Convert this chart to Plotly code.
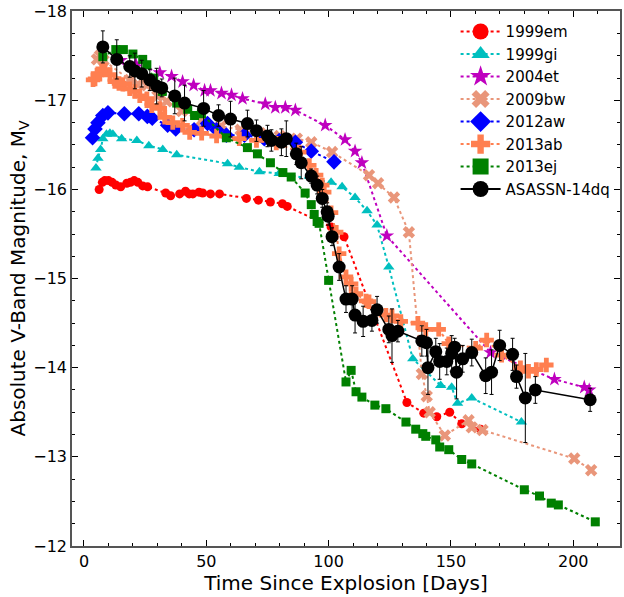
import plotly.graph_objects as go

# ---------------- data ----------------
em_day = [6.2, 7.5, 8.5, 10.0, 11.5, 13.0, 15.0, 17.5, 19.0, 20.5, 22.0, 24.0, 26.0, 33.4, 35.4, 39.1,
          41.5, 43.0, 44.5, 47.0, 48.5, 51.7, 55.4, 66.4, 71.3, 76.2, 81.1, 83.1, 101.0, 106.3,
          132.0, 138.9, 144.2, 149.5, 154.4, 162.1]
em_mag = [-16.0, -16.08, -16.1, -16.1, -16.08, -16.05, -16.03, -16.07, -16.08, -16.1, -16.08, -16.04,
          -16.03, -15.96, -15.93, -15.95, -15.98, -15.95, -15.95, -15.97, -15.96, -15.95, -15.95,
          -15.9, -15.88, -15.86, -15.84, -15.81, -15.58, -15.47, -13.61, -13.49, -13.45, -13.50,
          -13.37, -13.31]

gi_day = [4.9, 5.7, 6.8, 7.7, 9.2, 10.6, 11.8, 15.4, 21.6, 26.5, 32.2, 37.9, 58.7, 63.5, 71.7, 79.8,
          101.0, 105.5, 110.8, 115.7, 119.8, 124.6, 134.4, 145.8, 150.3, 152.7, 158.5, 178.8]
gi_mag = [-16.24, -16.35, -16.45, -16.57, -16.62, -16.63, -16.62, -16.57, -16.55, -16.49, -16.45,
          -16.39, -16.29, -16.25, -16.20, -16.18, -16.08, -16.03, -15.91, -15.76, -15.60, -15.13,
          -14.10, -13.80, -13.78, -13.60, -13.66, -13.39]

et_day = [15.0, 21.2, 31.0, 35.8, 40.3, 44.8, 49.3, 51.7, 56.2, 60.3, 64.8, 74.1, 78.2, 82.3, 86.4,
          98.6, 106.7, 110.8, 113.6, 123.8, 166.2, 192.3, 204.5, 206.5]
et_mag = [-17.45, -17.41, -17.31, -17.27, -17.21, -17.17, -17.11, -17.11, -17.08, -17.06, -17.02,
          -16.96, -16.92, -16.92, -16.89, -16.72, -16.56, -16.43, -16.30, -15.48, -14.17, -13.87,
          -13.78, -13.75]

bw_day = [5.3, 6.5, 8.0, 18.7, 22.0, 25.7, 30.0, 33.8, 40.0, 48.0, 56.0, 64.0, 72.0, 80.0, 87.0,
          92.9, 101.4, 116.5, 120.2, 126.7, 132.8, 138.1, 140.1, 141.3, 147.5, 157.2, 158.5, 162.9,
          200.4, 207.3]
bw_mag = [-17.46, -17.5, -17.45, -17.23, -17.18, -17.17, -17.05, -16.99, -16.88, -16.77, -16.71,
          -16.67, -16.63, -16.6, -16.57, -16.53, -16.42, -16.16, -16.07, -15.91, -15.52, -13.93,
          -13.68, -13.50, -13.24, -13.41, -13.33, -13.30, -12.98, -12.85]

aw_day = [3.5, 4.5, 5.7, 7.7, 9.8, 16.5, 22.4, 25.9, 27.9, 34.2, 37.5, 45.0, 50.5, 54.2, 58.2,
          65.6, 73.7, 79.8, 86.4, 92.9, 102.2]
aw_mag = [-16.58, -16.68, -16.75, -16.83, -16.86, -16.85, -16.85, -16.82, -16.80, -16.72, -16.68,
          -16.67, -16.74, -16.67, -16.61, -16.61, -16.57, -16.55, -16.53, -16.43, -16.31]

ab_day = [3.7, 4.5, 5.7, 7.3, 8.6, 10.6, 12.6, 14.3, 15.9, 18.7, 20.8, 22.8, 25.7, 27.7, 31.0, 33.0,
          36.3, 40.3, 43.2, 48.1, 54.2, 63.5, 70.5, 78.6, 88.0, 92.1, 94.9, 97.4, 98.2, 101.0,
          103.1, 104.3, 107.1, 109.2, 111.2, 115.3, 116.5, 123.4, 125.9, 129.5, 136.5, 139.7,
          145.0, 149.1, 160.1, 164.6, 170.7, 178.4, 181.7, 184.9, 189.0]
ab_mag = [-17.23, -17.24, -17.30, -17.34, -17.34, -17.29, -17.21, -17.19, -17.18, -17.13, -17.10,
          -17.05, -17.02, -16.94, -16.91, -16.81, -16.75, -16.72, -16.64, -16.63, -16.60, -16.57,
          -16.55, -16.52, -16.42, -16.27, -16.16, -16.05, -15.97, -15.74, -15.52, -15.28, -15.02,
          -14.94, -14.83, -14.75, -14.74, -14.59, -14.58, -14.52, -14.50, -14.43, -14.43, -14.27,
          -14.22, -14.31, -14.14, -14.00, -13.96, -13.98, -14.03]

ej_day = [7.7, 13.0, 16.1, 20.0, 24.0, 25.7, 28.5, 32.0, 37.9, 42.4, 45.2, 48.0, 58.2, 66.8, 70.9,
          76.2, 81.3, 84.7, 90.4, 92.9, 94.1, 95.3, 96.1, 100.0, 107.1, 109.2, 111.2, 113.6, 118.9,
          123.4, 131.6, 135.6, 138.5, 139.7, 143.8, 145.4, 149.1, 154.4, 158.5, 180.0, 186.2,
          191.0, 193.9, 209.0]
ej_mag = [-17.49, -17.57, -17.57, -17.52, -17.46, -17.40, -17.25, -17.1, -16.97, -16.90, -16.83,
          -16.85, -16.58, -16.47, -16.40, -16.30, -16.19, -16.14, -15.96, -15.83, -15.72, -15.64,
          -15.62, -14.98, -13.84, -13.97, -13.73, -13.67, -13.58, -13.54, -13.39, -13.31, -13.26,
          -13.23, -13.19, -13.11, -13.08, -12.97, -12.92, -12.63, -12.56, -12.48, -12.46, -12.27]

dq_day = [7.7, 13.4, 18.7, 20.8, 23.6, 26.9, 29.7, 31.8, 37.1, 41.1, 48.9, 55.0, 59.9, 66.8, 70.5,
          75.0, 76.6, 80.7, 82.7, 86.8, 88.8, 92.9, 95.3, 97.4, 99.4, 99.8, 101.4, 104.3, 107.1,
          109.6, 110.8, 114.1, 117.7, 119.8, 124.6, 125.9, 128.3, 138.1, 140.0, 140.6, 143.8,
          145.4, 148.3, 150.3, 151.5, 152.3, 154.8, 158.5, 164.2, 166.6, 169.9, 175.2, 176.8,
          180.4, 184.5, 206.9]
dq_mag = [-17.60, -17.46, -17.38, -17.33, -17.30, -17.23, -17.16, -17.14, -17.05, -16.97, -16.91,
          -16.83, -16.79, -16.74, -16.66, -16.60, -16.55, -16.53, -16.57, -16.40, -16.30, -16.15,
          -16.05, -15.90, -15.75, -15.70, -15.47, -15.13, -14.77, -14.77, -14.59, -14.52, -14.53,
          -14.65, -14.43, -14.36, -14.41, -14.30, -14.28, -14.00, -14.18, -14.07, -14.07, -14.16,
          -14.23, -13.95, -14.10, -14.17, -13.91, -13.95, -14.25, -14.15, -13.90, -13.66, -13.75,
          -13.64]
dq_err = [0.18, 0.22, 0.12, 0.2, 0.15, 0.12, 0.2, 0.1, 0.2, 0.2, 0.2, 0.12, 0.2, 0.15, 0.12,
          0.12, 0.12, 0.15, 0.2, 0.12, 0.18, 0.08, 0.1, 0.1, 0.1, 0.1, 0.1, 0.15, 0.15, 0.15,
          0.2, 0.17, 0.12, 0.15, 0.15, 0.3, 0.12, 0.17, 0.15, 0.3, 0.15, 0.2, 0.15, 0.2, 0.1,
          0.3, 0.15, 0.15, 0.2, 0.25, 0.17, 0.18, 0.13, 0.5, 0.15, 0.13]

names = ["1999em", "1999gi", "2004et", "2009bw", "2012aw", "2013ab", "2013ej"]
x_ticks = [0, 50, 100, 150, 200]
y_ticks = [-18, -17, -16, -15, -14, -13, -12]

# ---------------- style ----------------
styles = [
    (em_day, em_mag, "#FF0000", "circle", 9),
    (gi_day, gi_mag, "#00BFBF", "triangle-up", 10),
    (et_day, et_mag, "#BF00BF", "star", 11),
    (bw_day, bw_mag, "#E9967A", "x", 11),
    (aw_day, aw_mag, "#0000FF", "diamond", 12),
    (ab_day, ab_mag, "#FF7F50", "cross", 12),
    (ej_day, ej_mag, "#008000", "square", 9),
]

fig = go.Figure()
for name, (xd, yd, col, sym, sz) in zip(names, styles):
    fig.add_trace(go.Scatter(
        x=xd, y=yd, mode="lines+markers", name=name, showlegend=False,
        line=dict(color=col, width=2, dash="dot"),
        marker=dict(color=col, symbol=sym, size=sz)))

fig.add_trace(go.Scatter(
    x=dq_day, y=dq_mag, mode="lines+markers", name="ASASSN-14dq", showlegend=False,
    line=dict(color="black", width=1.5),
    marker=dict(color="black", symbol="circle", size=13),
    error_y=dict(type="data", array=dq_err, color="black", thickness=1, width=2)))

# legend-only entries with larger symbols
for name, (xd, yd, col, sym, sz) in zip(names, styles):
    fig.add_trace(go.Scatter(
        x=[None], y=[None], mode="lines+markers", name=name,
        line=dict(color=col, width=2, dash="dot"),
        marker=dict(color=col, symbol=sym, size=16)))
fig.add_trace(go.Scatter(
    x=[None], y=[None], mode="lines+markers", name="ASASSN-14dq",
    line=dict(color="black", width=2),
    marker=dict(color="black", symbol="circle", size=16)))

font = "DejaVu Sans, sans-serif"
fig.update_layout(
    width=624, height=597,
    margin=dict(l=72, r=2, t=5, b=51),
    paper_bgcolor="white", plot_bgcolor="white",
    font=dict(family=font, size=16, color="black"),
    legend=dict(x=0.7, y=0.992, xanchor="left", yanchor="top",
                bgcolor="rgba(0,0,0,0)", font=dict(size=15, family=font),
                itemwidth=40, tracegroupgap=0),
    xaxis=dict(range=[-4.9, 219.1], tickvals=x_ticks, ticktext=[str(v) for v in x_ticks],
               ticks="inside", ticklen=6, tickwidth=1.2, tickcolor="black",
               minor=dict(dtick=10, tick0=0, ticks="inside", ticklen=3, tickcolor="black"),
               showline=True, linecolor="#555", linewidth=1.5, mirror="allticks",
               showgrid=False, zeroline=False,
               title=dict(text="Time Since Explosion [Days]", font=dict(size=20), standoff=2),
               tickfont=dict(size=16)),
    yaxis=dict(range=[-11.999, -18.003], tickvals=y_ticks,
               ticktext=["\u2212" + str(abs(v)) for v in y_ticks],
               ticks="inside", ticklen=6, tickwidth=1.2, tickcolor="black",
               minor=dict(dtick=0.25, tick0=0, ticks="inside", ticklen=3, tickcolor="black"),
               showline=True, linecolor="#555", linewidth=1.5, mirror="allticks",
               showgrid=False, zeroline=False, ticklabeloverflow="allow",
               title=dict(text="Absolute V-Band Magnitude, M<sub>V</sub>", font=dict(size=20),
                          standoff=2),
               tickfont=dict(size=16)),
)

fig.write_html("out.html")
